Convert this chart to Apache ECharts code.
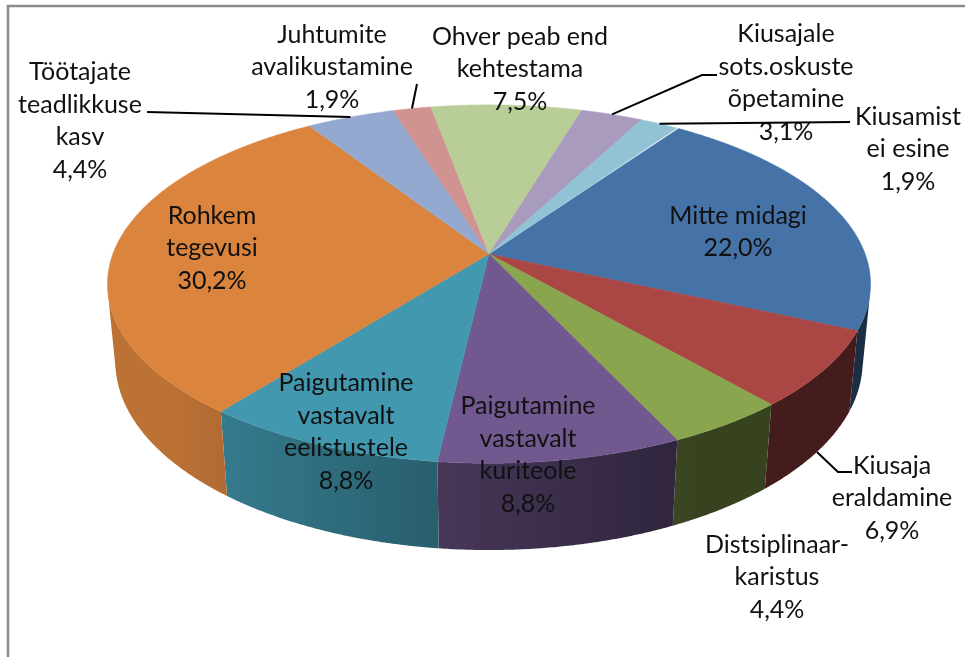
<!DOCTYPE html>
<html>
<head>
<meta charset="utf-8">
<script src="https://cdn.jsdelivr.net/npm/echarts@6/dist/echarts.min.js"></script>
<style>
html, body { margin: 0; padding: 0; background: #fff; }
#chart { width: 965px; height: 657px; }
</style>
</head>
<body>
<div id="chart"></div>
<script>
// slice data, in drawing order (clockwise, first slice starts 35 deg past 12 o'clock)
var categories = [
	'Mitte midagi',
	'Kiusaja\neraldamine',
	'Distsiplinaar-\nkaristus',
	'Paigutamine\nvastavalt\nkuriteole',
	'Paigutamine\nvastavalt\neelistustele',
	'Rohkem\ntegevusi',
	'Töötajate\nteadlikkuse\nkasv',
	'Juhtumite\navalikustamine',
	'Ohver peab end\nkehtestama',
	'Kiusajale\nsots.oskuste\nõpetamine',
	'Kiusamist\nei esine'
];
var values = [22.0, 6.9, 4.4, 8.8, 8.8, 30.2, 4.4, 1.9, 7.5, 3.1, 1.9];
var colors = ['#4572A7', '#AA4643', '#89A54E', '#71588F', '#4198AF', '#DB843D',
	'#93A9CF', '#D19392', '#B9CD96', '#A99BBD', '#91C3D5'];

// label block centres and leader line starts (layout only)
var labelPos = [[738, 232], [892, 498], [777, 577], [528, 455], [346, 432], [212, 248],
	[80, 121], [332, 67], [520, 69], [786, 83], [908, 149]];
var leaders = [null, [[852, 472], [838, 472]], null, null, null, null,
	[[147, 112]], [[417, 84]], null, [[717, 75], [702, 75]], [[850, 122]]];
var leaderToBase = [false, true, false, false, false, false, false, false, false, false, false];

// perspective camera for the tilted disc
var CAM = { cx: 489, cy: 254, f: 1986, d: 5.28, sin: 0.463, cos: 0.886, h: 0.235 };

function pctText(v) {
	return v.toFixed(1).replace('.', ',') + '%';
}

function darken(hex, f) {
	var n = parseInt(hex.slice(1), 16);
	var r = Math.round(((n >> 16) & 255) * f);
	var g = Math.round(((n >> 8) & 255) * f);
	var b = Math.round((n & 255) * f);
	return 'rgb(' + r + ',' + g + ',' + b + ')';
}

function shade(u) {
	return Math.max(0.40, Math.min(0.86, 0.58 - 0.372 * u));
}

// maps an angle-axis value (percent) onto the rim of the disc in perspective
function makeProj(api) {
	var c = api.coord([0, 0]);
	var e = api.coord([1, 0]);
	var R = Math.sqrt((e[0] - c[0]) * (e[0] - c[0]) + (e[1] - c[1]) * (e[1] - c[1]));
	return function (pct, z) {
		var p = api.coord([1, pct]);
		var u = (p[0] - c[0]) / R, v = (p[1] - c[1]) / R;
		var depth = CAM.d - v * CAM.cos - z * CAM.sin;
		return {
			x: CAM.cx + CAM.f * u / depth,
			y: CAM.cy + CAM.f * (v * CAM.sin - z * CAM.cos) / depth,
			u: u, v: v
		};
	};
}

var sliceData = [];
var acc = 0;
for (var i = 0; i < values.length; i++) {
	sliceData.push([1, acc, acc + values[i], i]);
	acc += values[i];
}

function renderWall(params, api) {
	var proj = makeProj(api);
	var s = api.value(1), e = api.value(2), idx = api.value(3);
	var vmin = 1 / (CAM.d * CAM.cos);
	var top = [], bot = [], us = [];
	for (var t = s; t < e + 0.05; t += 0.1) {
		var pt = Math.min(t, e);
		var a = proj(pt, 0);
		if (a.v < vmin) continue;
		var b = proj(pt, -CAM.h);
		top.push([a.x, a.y]);
		bot.push([b.x, b.y]);
		us.push(a.u);
	}
	if (top.length < 2) return;
	var pts = top.concat(bot.slice().reverse());
	var xmin = Infinity, xmax = -Infinity;
	pts.forEach(function (p) { xmin = Math.min(xmin, p[0]); xmax = Math.max(xmax, p[0]); });
	var stops = [];
	var step = Math.max(1, Math.floor(top.length / 12));
	for (var k = top.length - 1; k >= 0; k -= step) {
		var off = (top[k][0] - xmin) / (xmax - xmin || 1);
		off = Math.max(0, Math.min(1, off));
		if (stops.length && off < stops[stops.length - 1].offset) off = stops[stops.length - 1].offset;
		stops.push({ offset: off, color: darken(colors[idx], shade(us[k])) });
	}
	if (stops.length < 2) stops.push({ offset: 1, color: stops[0].color });
	return {
		type: 'polygon',
		shape: { points: pts },
		style: {
			fill: new echarts.graphic.LinearGradient(xmin, 0, xmax, 0, stops, true),
			stroke: null
		}
	};
}

function renderTop(params, api) {
	var proj = makeProj(api);
	var s = api.value(1), e = api.value(2), idx = api.value(3);
	var pts = [[CAM.cx, CAM.cy]];
	for (var t = s; t < e + 0.05; t += 0.1) {
		var a = proj(Math.min(t, e), 0);
		pts.push([a.x, a.y]);
	}
	return {
		type: 'polygon',
		shape: { points: pts },
		style: { fill: colors[idx], stroke: colors[idx], lineWidth: 0.5 }
	};
}

function renderLabel(params, api) {
	var proj = makeProj(api);
	var s = api.value(1), e = api.value(2), idx = api.value(3);
	var children = [];
	if (leaders[idx]) {
		var rim = proj((s + e) / 2, leaderToBase[idx] ? -CAM.h : 0);
		var line = leaders[idx].concat([[rim.x, rim.y]]);
		children.push({
			type: 'polyline',
			shape: { points: line },
			style: { stroke: '#000', lineWidth: 2, fill: null }
		});
	}
	children.push({
		type: 'text',
		x: labelPos[idx][0],
		y: labelPos[idx][1],
		style: {
			text: categories[idx] + '\n' + pctText(values[idx]),
			fill: '#111',
			fontSize: 25,
			fontFamily: 'Lato',
			lineHeight: 32.5,
			align: 'center',
			verticalAlign: 'middle'
		}
	});
	return { type: 'group', children: children };
}

var chart = echarts.init(document.getElementById('chart'));
chart.setOption({
	animation: false,
	backgroundColor: '#fff',
	polar: { center: ['50%', '50%'], radius: 100 },
	angleAxis: { type: 'value', min: 0, max: 100, startAngle: 55, clockwise: true, show: false },
	radiusAxis: { type: 'value', min: 0, max: 1, show: false },
	graphic: [{
		type: 'polyline',
		shape: { points: [[8, 700], [8, 6], [1000, 6]] },
		style: { stroke: '#8a8a8a', lineWidth: 2.5, fill: null }
	}],
	series: [
		{ type: 'custom', coordinateSystem: 'polar', silent: true, z: 1, data: sliceData, renderItem: renderWall },
		{ type: 'custom', coordinateSystem: 'polar', silent: true, z: 2, data: sliceData, renderItem: renderTop },
		{ type: 'custom', coordinateSystem: 'polar', silent: true, z: 3, data: sliceData, renderItem: renderLabel }
	]
});
</script>
</body>
</html>
